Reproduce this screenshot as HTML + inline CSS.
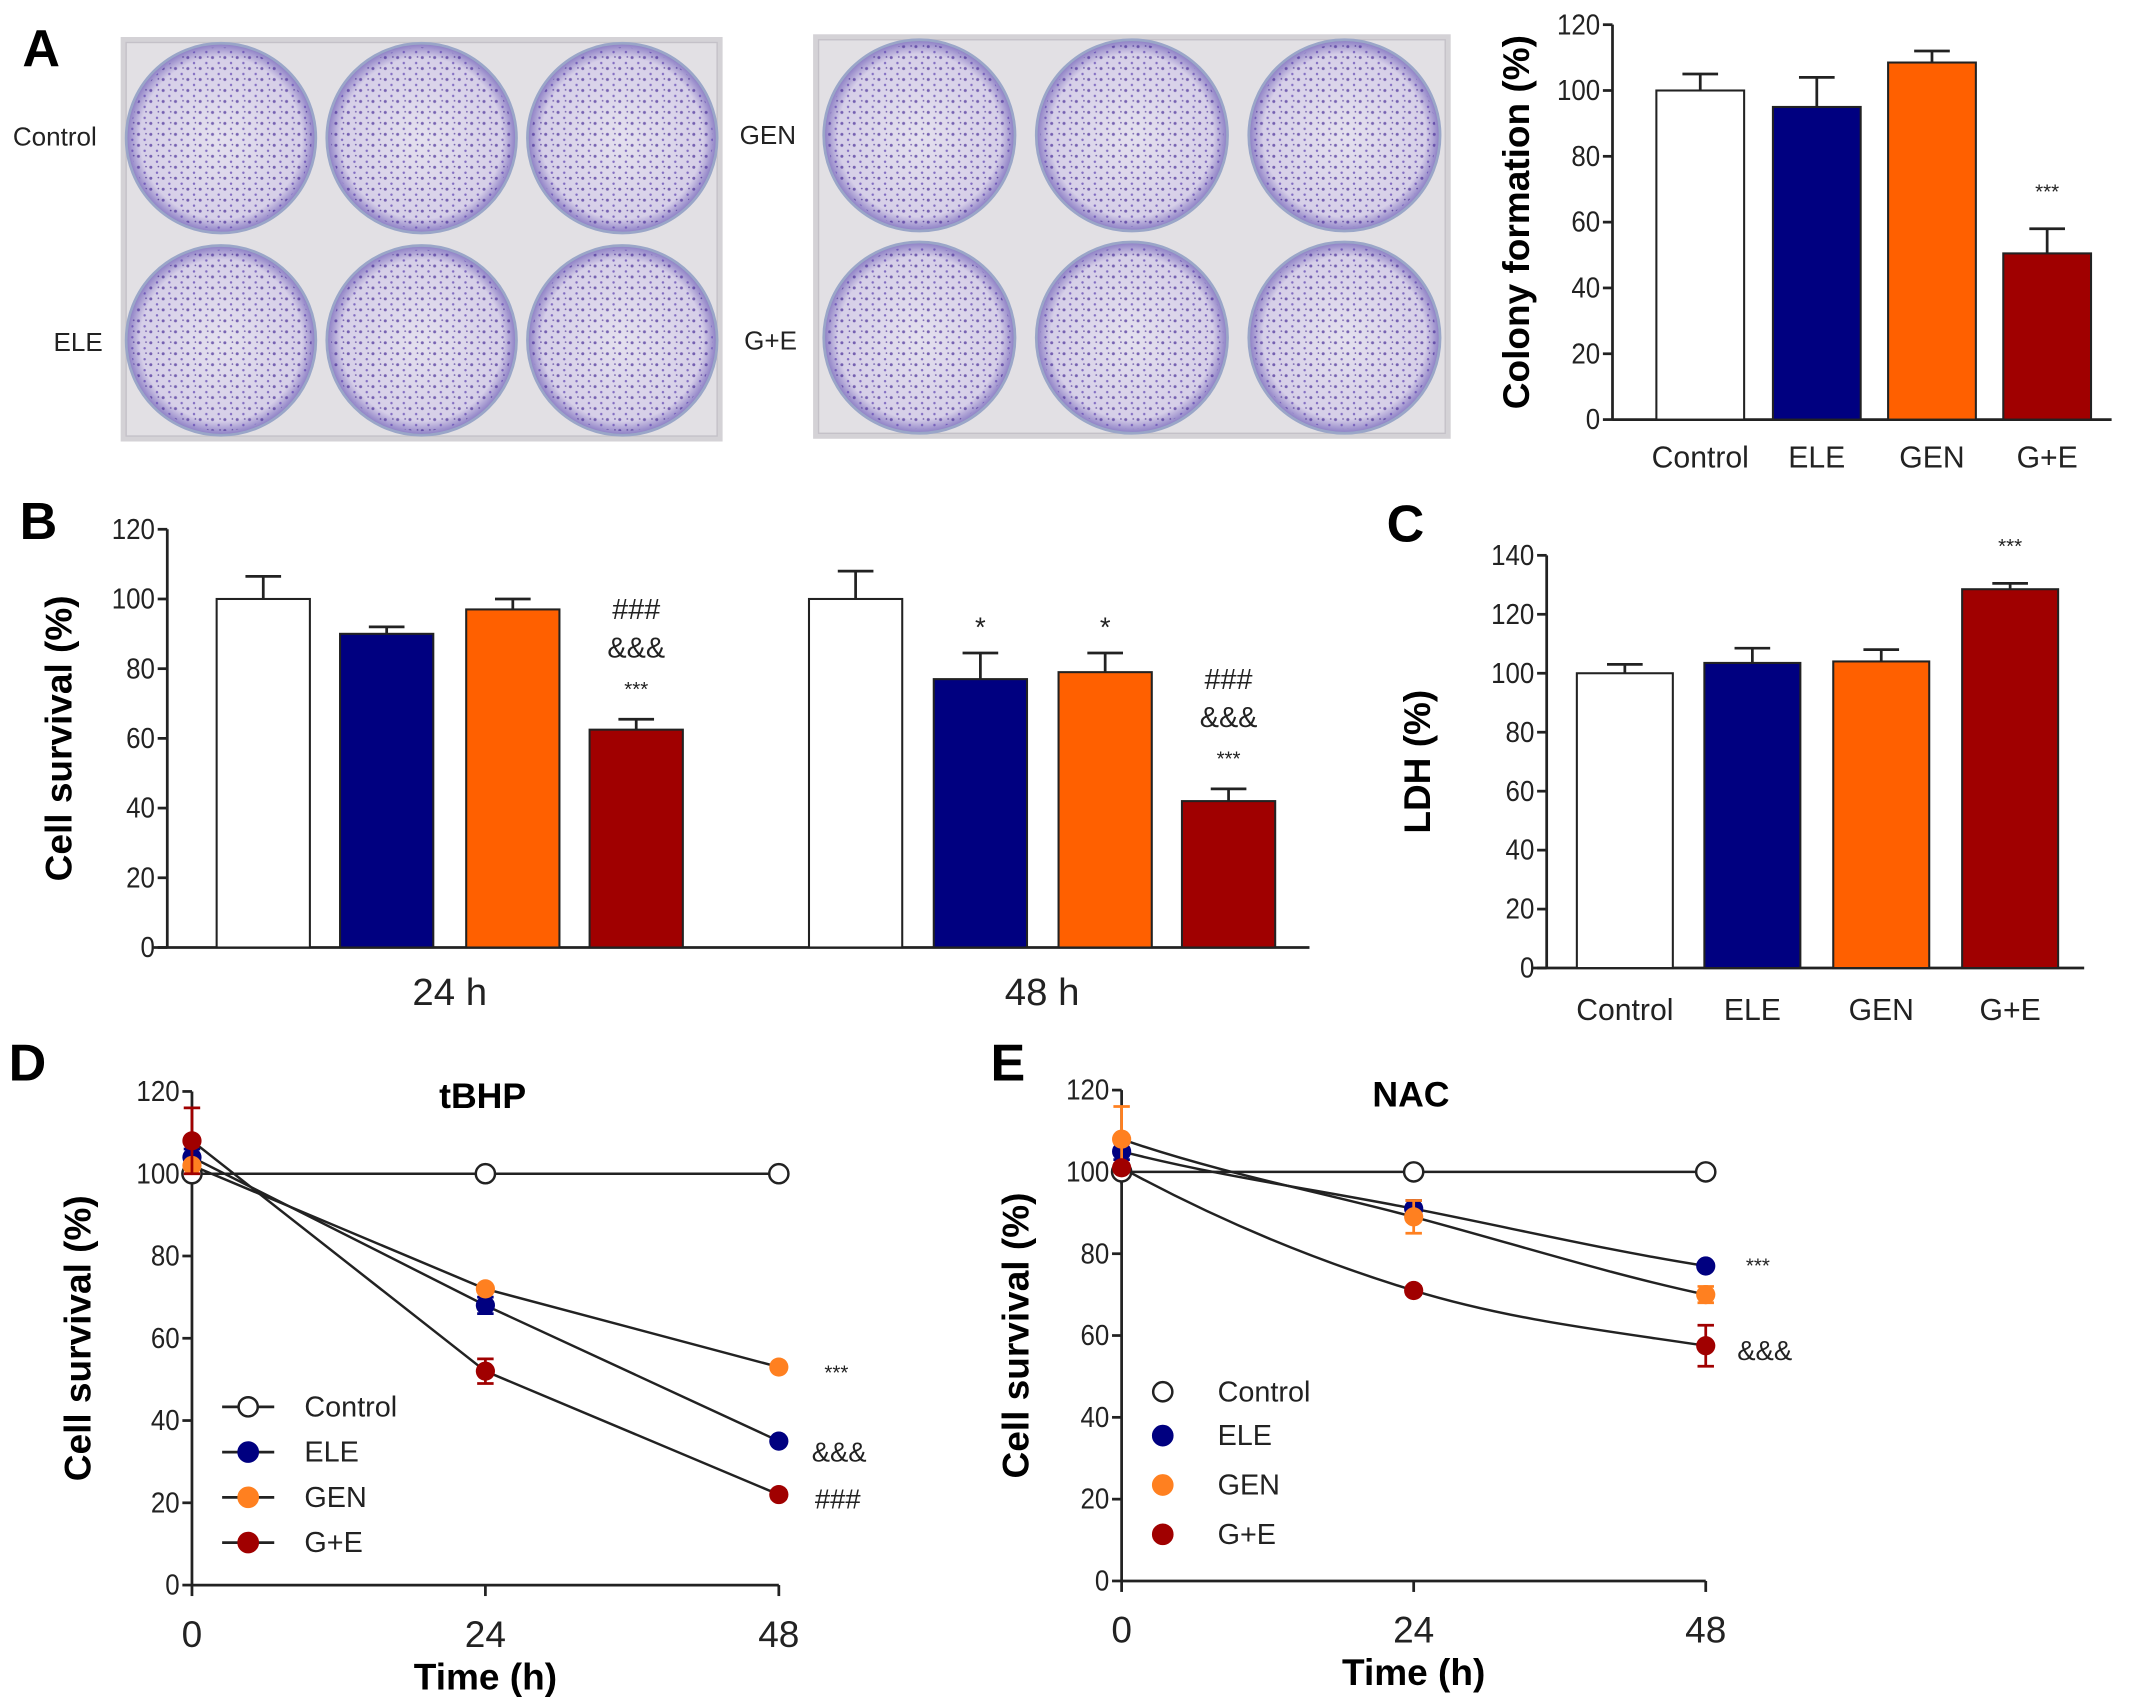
<!DOCTYPE html>
<html><head><meta charset="utf-8"><style>
html,body{margin:0;padding:0;background:#fff;}
svg{display:block;font-family:"Liberation Sans",Arial,sans-serif;}
</style></head><body>
<svg id="fig" width="2150" height="1703" viewBox="0 0 1568 1242" xmlns="http://www.w3.org/2000/svg">
<defs>
<pattern id="dots" width="9" height="8" patternUnits="userSpaceOnUse">
<circle cx="2" cy="2" r="1.1" fill="#4a2f98"/><circle cx="6.5" cy="6" r="0.9" fill="#5b3fb0"/><circle cx="7.5" cy="1.5" r="0.6" fill="#3a2088"/>
</pattern>
<radialGradient id="well" cx="50%" cy="50%" r="50%">
<stop offset="0%" stop-color="#e4e0ee"/><stop offset="85%" stop-color="#d6cfe8"/><stop offset="100%" stop-color="#8a7cc4"/>
</radialGradient>
</defs>
</svg>
<script>
// ---------- data ----------
const groups = ["Control","ELE","GEN","G+E"];
const colors = ["#ffffff","#000080","#ff6000","#a00000"];
const colonyVals = [100, 95, 108.5, 50.5];
const colonyErr = [5, 9, 3.5, 7.5];
const survTimes = ["24 h","48 h"];
const surv24 = [100, 90, 97, 62.5];
const surv24Err = [6.5, 2, 3, 3];
const surv48 = [100, 77, 79, 42];
const surv48Err = [8, 7.5, 5.5, 3.5];
const ldhVals = [100, 103.5, 104, 128.5];
const ldhErr = [3, 5, 4, 2];
const timePts = [0, 24, 48];
const tbhpControl = [100, 100, 100];
const tbhpELE = [104, 68, 35];
const tbhpGEN = [102, 72, 53];
const tbhpGE = [108, 52, 22];
const tbhpGEErr = [8, 3, 1];
const nacControl = [100, 100, 100];
const nacELE = [105, 91, 77];
const nacGEN = [108, 89, 70];
const nacGE = [101, 71, 57.5];
const nacGENErr = [8, 4, 2];
const nacGEErr = [1, 1, 5];
const ticks120 = [0,20,40,60,80,100,120];
const ticks140 = [0,20,40,60,80,100,120,140];

const svg = document.getElementById('fig');
const NS = "http://www.w3.org/2000/svg";
function el(tag, attrs, parent){const e=document.createElementNS(NS,tag);for(const k in attrs)e.setAttribute(k,attrs[k]);(parent||svg).appendChild(e);return e;}
function txt(x,y,s,size,opts){const t=el('text',Object.assign({x:x,y:y,'font-size':size,fill:'#222'},opts||{}));t.textContent=s;return t;}

// ---------- Panel A photos ----------
function plate(x,y,w,h,name){
  const g=el('g',{});
  
  
  el('rect',{x:x,y:y,width:w,height:h,fill:'#d4d2d6'},g);
  el('rect',{x:x+4,y:y+4,width:w-8,height:h-8,fill:'#e2e0e4',stroke:'#c4c1c8'},g);
  const r=Math.min(w/6,h/4)-4;
  for(let i=0;i<3;i++)for(let j=0;j<2;j++){
    const cx=x+w/6*(2*i+1), cy=y+h/4*(2*j+1);
    el('circle',{cx:cx,cy:cy,r:r,fill:'url(#well)',stroke:'#9aa6c8','stroke-width':2},g);
    el('circle',{cx:cx,cy:cy,r:r-3,fill:'url(#dots)',opacity:0.7},g);
  }
}
plate(88,27,439,295,'plate-control-ele');
plate(593,25,465,295,'plate-gen-ge');
[["Control",40,106,"label-control"],["ELE",57,256,"label-ele"],["GEN",560,105,"label-gen"],["G+E",562,255,"label-ge"]].forEach(a=>{
  const t=txt(a[1],a[2],a[0],19,{'text-anchor':'middle'});
  
  
});

// panel letters
[["A",30,48],["B",28,393],["C",1025,395],["D",20,788],["E",735,788]].forEach(a=>{
  const t=txt(a[1],a[2],a[0],38,{'font-weight':'bold','text-anchor':'middle',fill:'#000'});
  
  
});

// ---------- generic axis ----------
function yAxis(ax, ticks, label, lx){
  el('line',{x1:ax.x0,y1:ax.y(ticks[0]),x2:ax.x0,y2:ax.y(ticks[ticks.length-1]),stroke:'#222','stroke-width':2});
  ticks.forEach(v=>{
    const yy=ax.y(v);
    el('line',{x1:ax.x0-7,y1:yy,x2:ax.x0,y2:yy,stroke:'#222','stroke-width':2});
    const t=txt(ax.x0-9,yy+7,String(v),21,{'text-anchor':'end',textLength:(String(v).length*10.5),lengthAdjust:'spacingAndGlyphs'});
    
    
  });
  const cy=(ax.y(ticks[0])+ax.y(ticks[ticks.length-1]))/2;
  const t=txt(lx,cy,label,27,{'font-weight':'bold','text-anchor':'middle',fill:'#000',transform:'rotate(-90 '+lx+' '+cy+')'});
  
  
}
function bar(ax,x1,x2,v,e,color,name){
  const y0=ax.y(0), yv=ax.y(v), ye=ax.y(v+e), cx=(x1+x2)/2;
  el('line',{x1:cx,y1:yv,x2:cx,y2:ye,stroke:'#222','stroke-width':2});
  el('line',{x1:cx-13,y1:ye,x2:cx+13,y2:ye,stroke:'#222','stroke-width':2});
  const r=el('rect',{x:x1,y:yv,width:x2-x1,height:y0-yv,fill:color,stroke:'#222','stroke-width':1.5});
  
  
}

// ---------- Panel A bar chart ----------
(function(){
  const ax={x0:1176,y:v=>306-v*(288/120)};
  yAxis(ax,ticks120,'Colony formation (%)',1115);
  el('line',{x1:1176,y1:ax.y(0),x2:1540,y2:ax.y(0),stroke:'#222','stroke-width':2});
  const starts=[1208,1293,1377,1461];
  groups.forEach((g,i)=>{
    bar(ax,starts[i],starts[i]+64,colonyVals[i],colonyErr[i],colors[i],'colony-bar-'+g.toLowerCase().replace('+',''));
    const t=txt(starts[i]+32,341,g,22,{'text-anchor':'middle'});
    
    
  });
  const s=txt(starts[3]+32,ax.y(colonyVals[3]+colonyErr[3])-22,'***',15,{'text-anchor':'middle'});
  
  
})();

// ---------- Panel B ----------
(function(){
  const ax={x0:122,y:v=>691-v*(305/120)};
  yAxis(ax,ticks120,'Cell survival (%)',52);
  el('line',{x1:112,y1:ax.y(0),x2:955,y2:ax.y(0),stroke:'#222','stroke-width':2});
  const sets=[[surv24,surv24Err,[158,248,340,430]],[surv48,surv48Err,[590,681,772,862]]];
  sets.forEach((s,k)=>{
    groups.forEach((g,i)=>bar(ax,s[2][i],s[2][i]+68,s[0][i],s[1][i],colors[i],'survival-bar-'+survTimes[k].replace(' ','')+'-'+g.toLowerCase().replace('+','')));
    const t=txt((s[2][0]+s[2][3]+68)/2,733,survTimes[k],28,{'text-anchor':'middle'});
    
    
  });
  function ann(x,v,lines){
    lines.forEach((l,j)=>{
      const t=txt(x,ax.y(v)-17-j*28,l,l==='***'?15:21,{'text-anchor':'middle'});
      
      
    });
  }
  ann(464,surv24[3]+surv24Err[3],['***','&&&','###']);
  ann(896,surv48[3]+surv48Err[3],['***','&&&','###']);
  [[715,1],[806,2]].forEach(a=>{
    const t=txt(a[0],ax.y(surv48[a[1]]+surv48Err[a[1]])-12,'*',20,{'text-anchor':'middle'});
    
    
  });
})();

// ---------- Panel C ----------
(function(){
  const ax={x0:1128,y:v=>706-v*(301/140)};
  yAxis(ax,ticks140,'LDH (%)',1043);
  el('line',{x1:1118,y1:ax.y(0),x2:1520,y2:ax.y(0),stroke:'#222','stroke-width':2});
  const starts=[1150,1243,1337,1431];
  groups.forEach((g,i)=>{
    bar(ax,starts[i],starts[i]+70,ldhVals[i],ldhErr[i],colors[i],'ldh-bar-'+g.toLowerCase().replace('+',''));
    const t=txt(starts[i]+35,744,g,22,{'text-anchor':'middle'});
    
    
  });
  const s=txt(1466,ax.y(ldhVals[3]+ldhErr[3])-22,'***',15,{'text-anchor':'middle'});
  
  
})();

// ---------- line panels ----------
function linePanel(cfg){
  const ax={x0:cfg.x0,y:v=>cfg.y0-v*(cfg.y0-cfg.y120)/120};
  const xs=t=>cfg.x0+t*(cfg.x48-cfg.x0)/48;
  yAxis(ax,ticks120,'Cell survival (%)',cfg.lx);
  el('line',{x1:cfg.x0,y1:ax.y(0),x2:cfg.x48,y2:ax.y(0),stroke:'#222','stroke-width':2});
  timePts.forEach(t=>{
    el('line',{x1:xs(t),y1:ax.y(0),x2:xs(t),y2:ax.y(0)+8,stroke:'#222','stroke-width':2});
    const l=txt(xs(t),ax.y(0)+45,String(t),27,{'text-anchor':'middle'});
    
    
  });
  const xt=txt(xs(24),ax.y(0)+76,'Time (h)',27,{'font-weight':'bold','text-anchor':'middle',fill:'#000'});
  
  
  const tt=txt(xs(24)-2,cfg.y120+12,cfg.title,26,{'font-weight':'bold','text-anchor':'middle',fill:'#000'});
  
  
  const series=cfg.series;
  series.forEach(s=>{
    const p=s.vals.map((v,i)=>[xs(timePts[i]),ax.y(v)]);
    let d;
    if(cfg.curved){
      const t1=[(p[1][0]-p[0][0])*0.5,(p[2][1]-p[0][1])*0.25];
      d='M'+p[0][0]+','+p[0][1]+' C'+(p[0][0]+(p[1][0]-p[0][0])/3)+','+(p[0][1]+(p[1][1]-p[0][1])/3*1.3)+' '+(p[1][0]-t1[0]/1.5)+','+(p[1][1]-t1[1]/1.5)+' '+p[1][0]+','+p[1][1]+' C'+(p[1][0]+t1[0]/1.5)+','+(p[1][1]+t1[1]/1.5)+' '+(p[2][0]-(p[2][0]-p[1][0])/3)+','+(p[2][1]-(p[2][1]-p[1][1])/3*0.8)+' '+p[2][0]+','+p[2][1];
    } else {
      d='M'+p.map(q=>q.join(',')).join(' L');
    }
    const path=el('path',{d:d,fill:'none',stroke:'#222','stroke-width':1.8});
    
    
    p.forEach((q,i)=>{
      if(s.err){
        const e=s.err[i];
        el('line',{x1:q[0],y1:ax.y(s.vals[i]+e),x2:q[0],y2:ax.y(s.vals[i]-e),stroke:s.color==='none'?'#222':s.color,'stroke-width':2});
        el('line',{x1:q[0]-6,y1:ax.y(s.vals[i]+e),x2:q[0]+6,y2:ax.y(s.vals[i]+e),stroke:s.color,'stroke-width':2});
        el('line',{x1:q[0]-6,y1:ax.y(s.vals[i]-e),x2:q[0]+6,y2:ax.y(s.vals[i]-e),stroke:s.color,'stroke-width':2});
      }
      const c=el('circle',{cx:q[0],cy:q[1],r:7,fill:s.color==='none'?'#fff':s.color,stroke:s.color==='none'?'#222':s.color,'stroke-width':s.color==='none'?1.8:0});
      
      
    });
  });
  cfg.ann.forEach(a=>{
    const t=txt(a[0],a[1],a[2],a[2]==='***'?15:20,{'text-anchor':'middle'});
    
    
  });
  series.forEach((s,i)=>{
    const y=cfg.legY[i];
    const g=el('g',{});
    
    
    if(!cfg.noLegLine) el('line',{x1:cfg.legX-19,y1:y,x2:cfg.legX+19,y2:y,stroke:'#222','stroke-width':2},g);
    el('circle',{cx:cfg.legX,cy:y,r:7,fill:s.color==='none'?'#fff':s.color,stroke:s.color==='none'?'#222':s.color,'stroke-width':1.8},g);
    const t=txt(cfg.legX+cfg.legTx,y+7,s.name,21,{});
    g.appendChild(t);
  });
}
linePanel({x0:140,x48:568,y0:1156,y120:796,lx:66,title:'tBHP',curved:false,
  series:[{name:'Control',vals:tbhpControl,color:'none',err:[2,0,0]},{name:'ELE',vals:tbhpELE,color:'#000080',err:[2,2,0]},{name:'GEN',vals:tbhpGEN,color:'#ff8020',err:null},{name:'G+E',vals:tbhpGE,color:'#a00000',err:tbhpGEErr}],
  ann:[[610,1006,'***'],[612,1066,'&&&'],[611,1100,'###']],legX:181,legY:[1026,1059,1092,1125],legTx:41});
linePanel({x0:818,x48:1244,y0:1153,y120:795,lx:750,title:'NAC',curved:true,noLegLine:true,
  series:[{name:'Control',vals:nacControl,color:'none',err:[3,0,0]},{name:'ELE',vals:nacELE,color:'#000080',err:[2,2,0]},{name:'GEN',vals:nacGEN,color:'#ff8020',err:nacGENErr},{name:'G+E',vals:nacGE,color:'#a00000',err:nacGEErr}],
  ann:[[1282,928,'***'],[1287,992,'&&&']],legX:848,legY:[1015,1047,1083,1119],legTx:40});
</script>
</body></html>
